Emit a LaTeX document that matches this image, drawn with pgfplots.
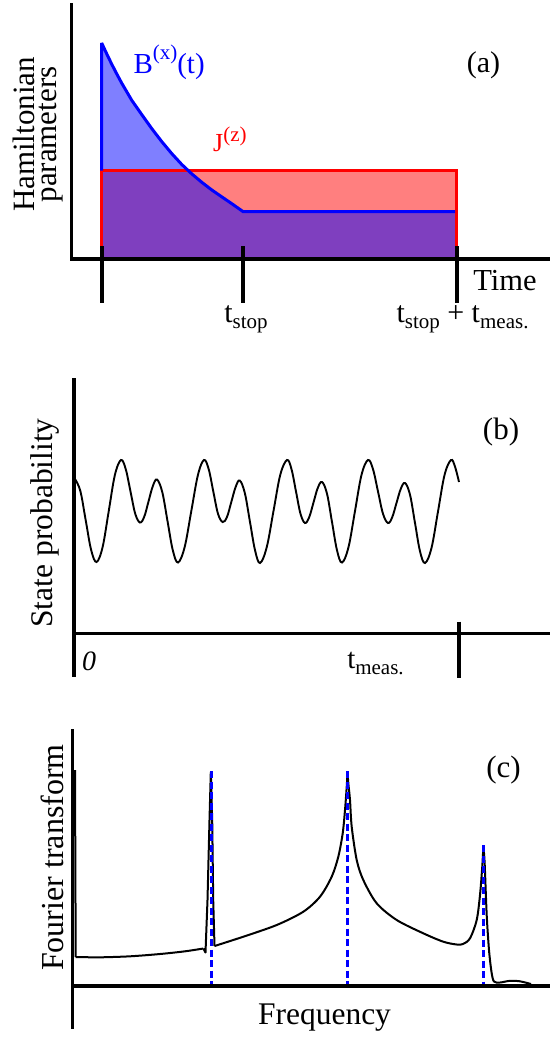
\documentclass[border=0pt]{standalone}
\usepackage{fontspec}
\setmainfont{Liberation Serif}
\usepackage{pgfplots}
\pgfplotsset{compat=1.18}
\newcommand{\sub}[1]{\raisebox{-0.22em}{\fontsize{21}{21}\selectfont #1}}
\newcommand{\super}[2]{\raisebox{#1}{\fontsize{21}{21}\selectfont #2}}
\tikzset{axln/.style={line width=3.8pt, black, line cap=butt, line join=miter}}
\pgfplotsset{panel/.style={scale only axis, width=550pt, xmin=0, xmax=550,
  y dir=reverse, axis lines=none, clip=false, anchor=north west}}
\begin{document}
\fontsize{30}{32}\selectfont
\begin{tikzpicture}[x=1pt,y=1pt]
\useasboundingbox (0,0) rectangle (550,-1038);
% ---------------- (a)
\begin{axis}[panel, height=345pt, ymin=0, ymax=345, at={(0pt,0pt)}]
\addplot[draw=none, fill=red, fill opacity=0.5] coordinates {(101.7,258) (101.7,170.7) (456.7,170.7) (456.7,258)};
\addplot[draw=none, fill=blue, fill opacity=0.5] coordinates {(101.7,258) (101.7,43) (106.7,53.8) (111.7,64.1) (116.7,73.8) (121.7,83.1) (131.7,100.2) (141.7,114.5) (151.7,128.5) (161.7,141.5) (171.7,153.5) (181.7,164.4) (191.7,173.8) (201.7,182.2) (211.7,189.9) (221.7,196.8) (231.7,203.6) (243.2,211.7) (455,211.7) (455,258)};
\addplot[red, line width=3pt, line join=miter] coordinates {(101.7,258) (101.7,170.7) (456.7,170.7) (456.7,258)};
\addplot[blue, line width=3pt, line join=miter, miter limit=4] coordinates {(101.7,170.7) (101.7,43) (106.7,53.8) (111.7,64.1) (116.7,73.8) (121.7,83.1) (131.7,100.2) (141.7,114.5) (151.7,128.5) (161.7,141.5) (171.7,153.5) (181.7,164.4) (191.7,173.8) (201.7,182.2) (211.7,189.9) (221.7,196.8) (231.7,203.6) (243.2,211.7) (455,211.7)};
\draw[axln] (axis cs:71.5,3) -- (axis cs:71.5,258.7) -- (axis cs:550,258.7);
\draw[axln] (axis cs:101.7,246) -- (axis cs:101.7,302.7);
\draw[axln] (axis cs:243.3,246) -- (axis cs:243.3,302.7);
\draw[axln] (axis cs:456.7,246) -- (axis cs:456.7,302.7);
\node[rotate=90, align=center, inner sep=0pt, font=\fontsize{31}{22.5}\selectfont] at (axis cs:38,134.5) {Hamiltonian\\parameters};
\node[anchor=base west, inner sep=0pt, text=blue, font=\fontsize{29}{29}\selectfont] at (axis cs:133.3,73.3) {B\super{13.5pt}{(x)}(t)};
\node[anchor=base west, inner sep=0pt, text=red, font=\fontsize{26}{26}\selectfont] at (axis cs:213,151.5) {J\super{10pt}{(z)}};
\node[inner sep=0pt, font=\fontsize{30}{30}\selectfont] at (axis cs:483.5,65.5) {(a)};
\node[inner sep=0pt, font=\fontsize{30.5}{30}\selectfont] at (axis cs:505,281) {Time};
\node[anchor=base, inner sep=0pt, font=\fontsize{30}{30}\selectfont] at (axis cs:246,322) {t\sub{stop}};
\node[anchor=base, inner sep=0pt, font=\fontsize{30}{30}\selectfont] at (axis cs:462.5,322) {t\sub{stop} + t\sub{meas.}};
\end{axis}
% ---------------- (b)
\begin{axis}[panel, height=345pt, ymin=345, ymax=690, at={(0pt,-345pt)}]
\addplot[black, line width=1.9pt, smooth, tension=0.6] coordinates {
(75,479) (80.4,491.2) (85.75,520.5) (91.1,549.8) (96.5,562) (102.6,547.1) (108.75,511) (114.9,474.9) (121,460)
(125.75,469.2) (130.5,491.5) (135.25,513.8) (140,522.5) (144.25,516.7) (148.5,501.5) (152.75,486.3) (157,479.5)
(162.25,492) (167.5,521) (172.75,550) (178,562.5) (184.65,547.1) (191.3,511) (197.95,474.9) (204,460)
(208.7,469.2) (213.3,491.5) (218,513.8) (222.7,522) (227,516.9) (231.3,502) (235.6,487.1) (239.7,480.5)
(244.8,492.9) (249.9,521.5) (255,550.1) (260,563) (266.75,547.1) (273.5,511) (280.25,474.9) (287,460)
(291.5,469.2) (296,491.5) (300.5,513.8) (305,523) (309.25,517) (313.5,502.5) (317.75,488) (322,482)
(327,493.7) (332,522) (337,550.3) (342,562.5) (348.5,547.1) (355,511) (361.5,474.9) (368,460)
(373,469.2) (378,491.5) (383,513.8) (388,523) (392.25,517.1) (396.5,503) (400.75,488.9) (405,483)
(410,494.7) (415,523) (420,551.3) (425,563) (431.5,547.9) (438,511.5) (444.5,475.1) (451,460) (455,466.7) (459,482)};
\draw[axln] (axis cs:74,378) -- (axis cs:74,677);
\draw[axln] (axis cs:74,633.5) -- (axis cs:550,633.5);
\draw[axln] (axis cs:459,621.7) -- (axis cs:459,678);
\node[rotate=90, inner sep=0pt, font=\fontsize{31.5}{31}\selectfont] at (axis cs:45,523) {State probability};
\node[inner sep=0pt, font=\fontsize{31}{31}\selectfont] at (axis cs:501,432.5) {(b)};
\node[anchor=base, inner sep=0pt, font=\fontsize{28}{28}\selectfont\itshape] at (axis cs:89,670) {0};
\node[anchor=base, inner sep=0pt, font=\fontsize{29}{29}\selectfont] at (axis cs:375.5,668) {t\sub{meas.}};
\end{axis}
% ---------------- (c)
\begin{axis}[panel, height=348pt, ymin=690, ymax=1038, at={(0pt,-690pt)}]
\addplot[black, line width=2pt] coordinates {(75,770) (75.7,957)};
\addplot[black, line width=2pt, smooth] coordinates {(75.7,957) (100,957.3) (130,956.3) (160,954) (185,951.3) (203.3,948.5)};
\addplot[black, line width=2pt, line join=round] coordinates {(203.3,948.5) (205.5,952.5) (207.5,900) (209.5,820) (210.8,772) (212.2,820) (213.2,900) (214.5,946)};
\addplot[black, line width=2pt, smooth] coordinates {(214.5,946) (243.3,936.7) (276.7,925) (303.3,911.7) (320,896.7) (331.7,876.7) (338.3,856.7) (342.7,833.3) (345,810) (346.7,787) (347.5,773)};
\addplot[black, line width=2pt, smooth] coordinates {(347.5,773) (348.5,785) (350,800) (351.7,826.7) (356.7,860) (363.3,880) (376.7,903.3) (396.7,920) (423.3,933.3) (443.3,941.7) (456.7,944.5) (463,944) (470,938.3) (476.7,920) (480,895) (482.3,866) (483.3,847)};
\addplot[black, line width=2pt, smooth] coordinates {(483.3,847) (484.6,862) (486.7,915) (489,950) (491.5,972) (494,981.5) (500,982.5) (510,980.8) (520,981.3) (531,984)};
\addplot[blue, line width=3pt, dash pattern=on 7pt off 3.5pt] coordinates {(211.7,771) (211.7,986)};
\addplot[blue, line width=3pt, dash pattern=on 7pt off 3.5pt] coordinates {(347.3,771) (347.3,986)};
\addplot[blue, line width=3pt, dash pattern=on 7pt off 3.5pt] coordinates {(483.3,845) (483.3,986)};
\draw[axln] (axis cs:72.5,729) -- (axis cs:72.5,1029);
\draw[axln] (axis cs:72.5,986) -- (axis cs:550,986);
\node[rotate=90, inner sep=0pt, font=\fontsize{32}{32}\selectfont] at (axis cs:52.6,857.5) {Fourier transform};
\node[inner sep=0pt, font=\fontsize{31.5}{31}\selectfont] at (axis cs:324.5,1017.5) {Frequency};
\node[inner sep=0pt, font=\fontsize{31}{31}\selectfont] at (axis cs:503.5,770.5) {(c)};
\end{axis}
\end{tikzpicture}
\end{document}
